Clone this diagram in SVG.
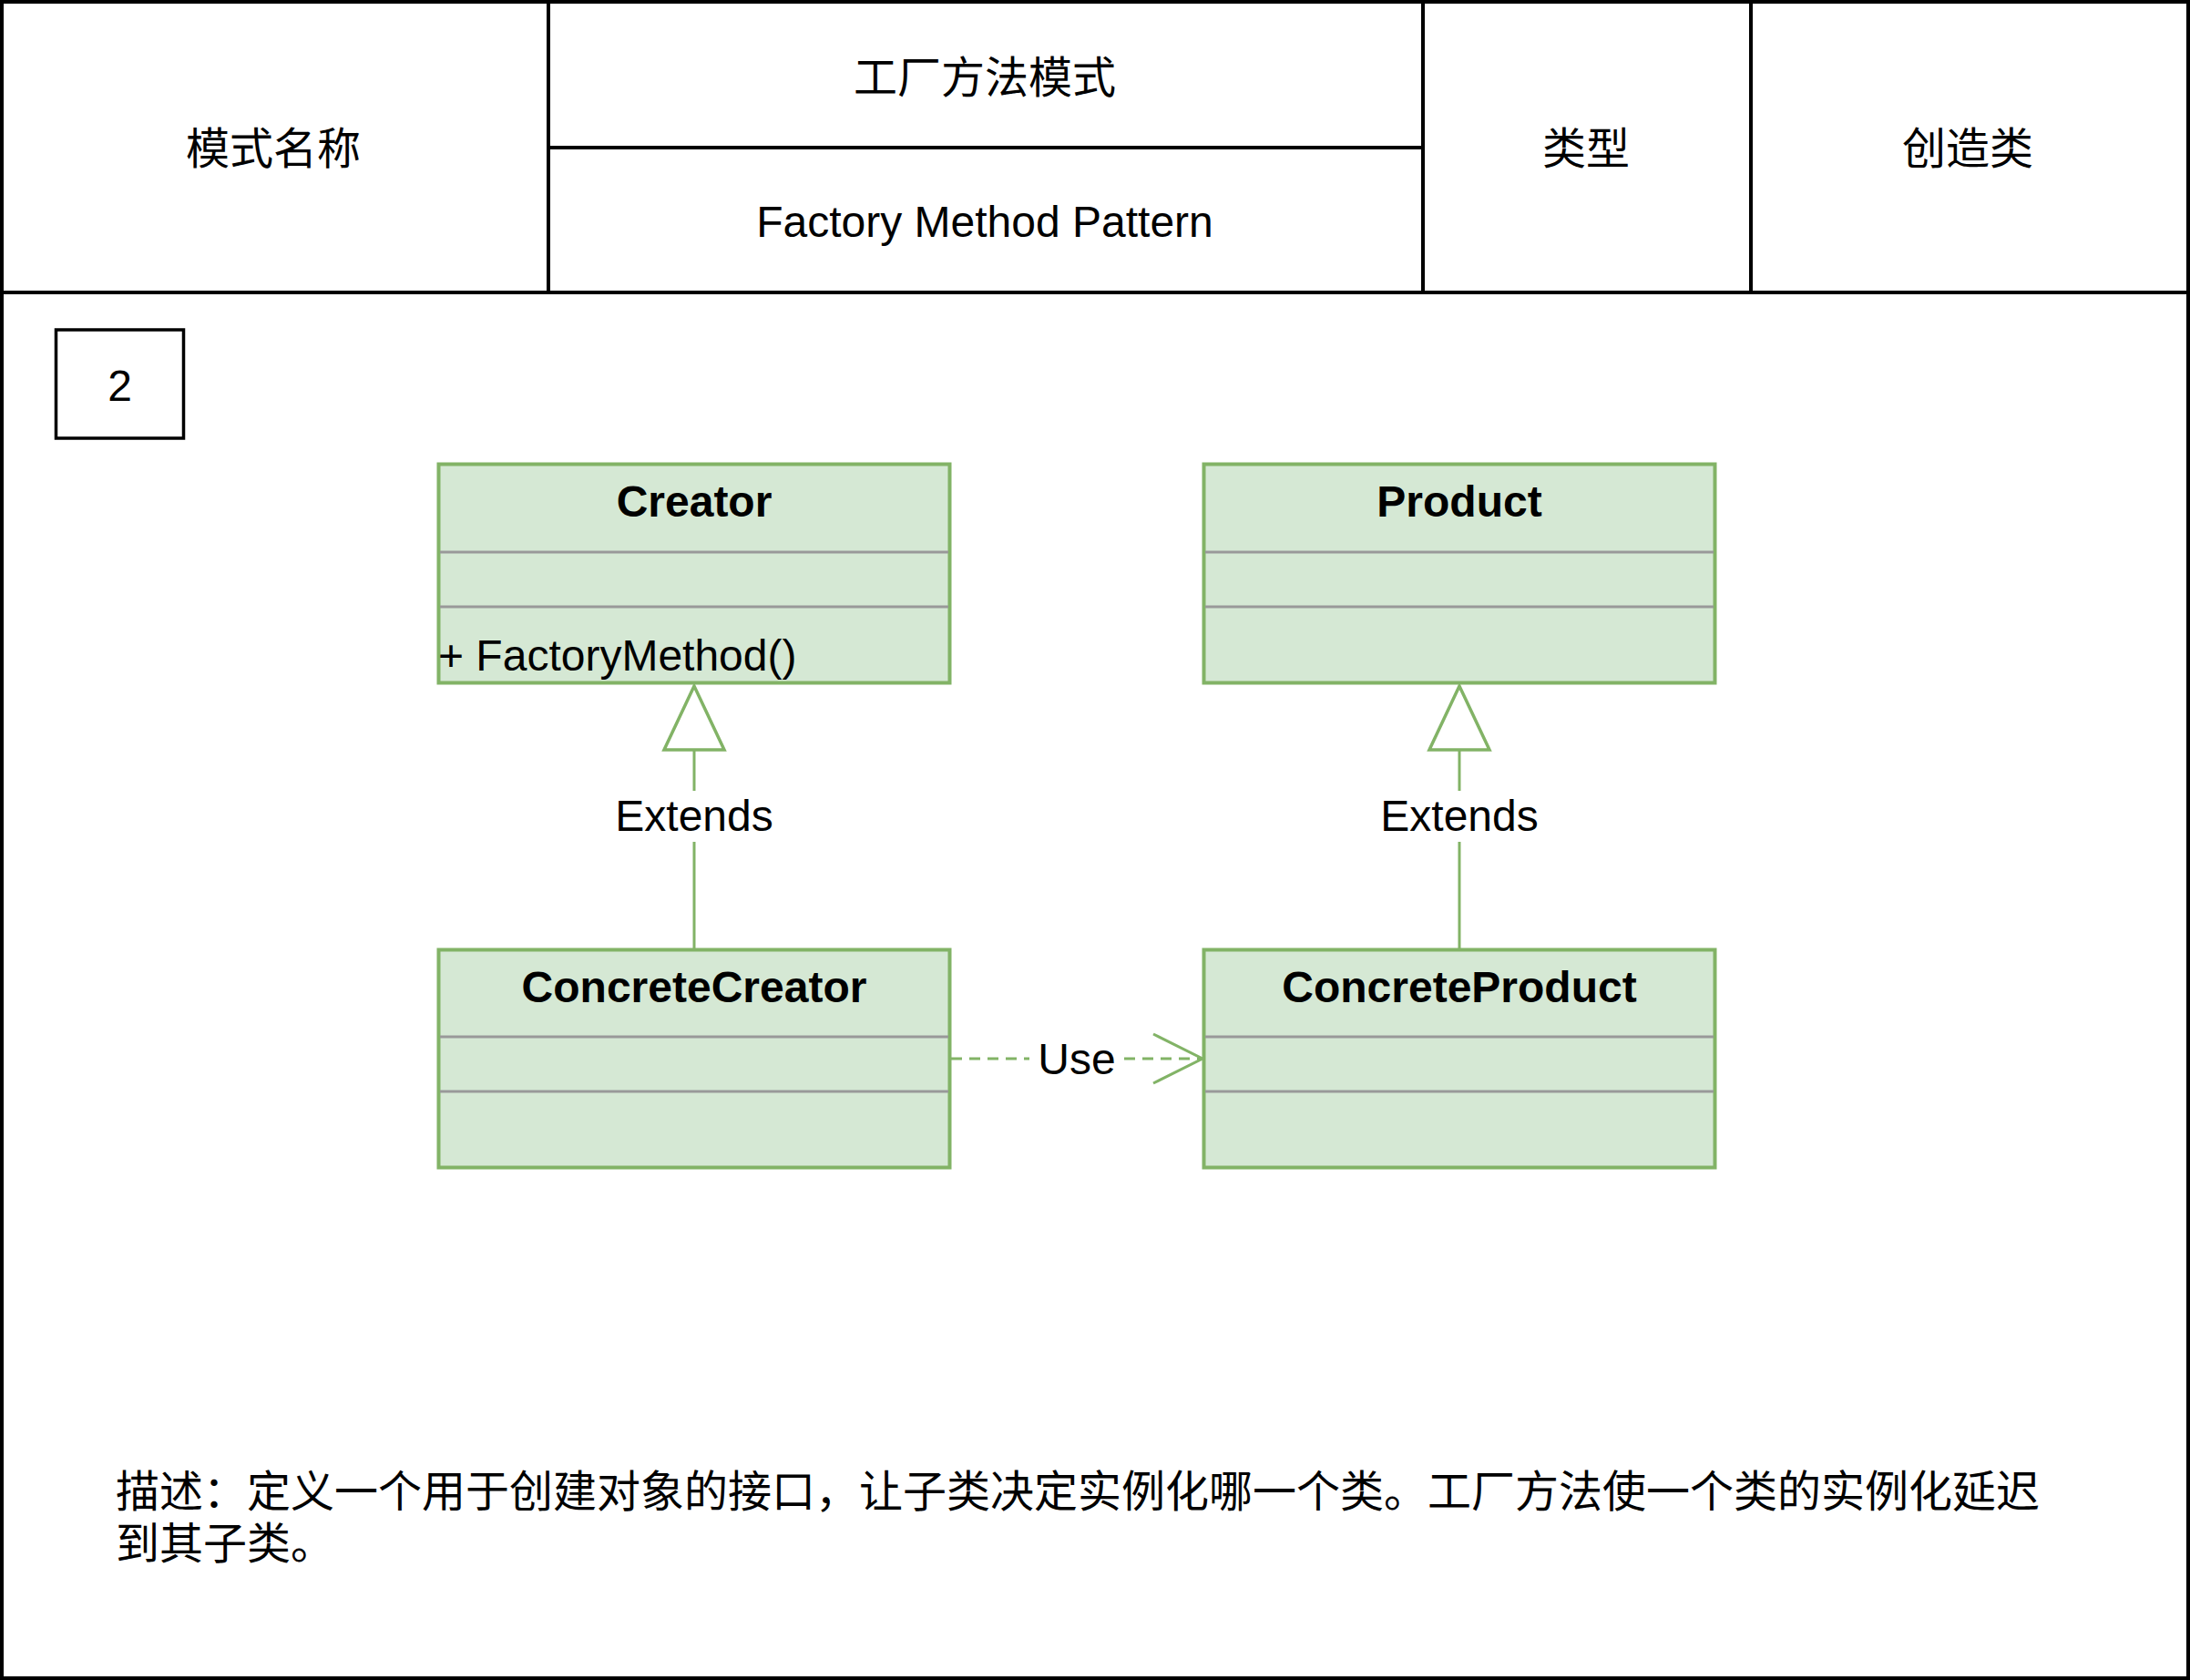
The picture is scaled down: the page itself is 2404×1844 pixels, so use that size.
<svg xmlns="http://www.w3.org/2000/svg" width="2404" height="1844" viewBox="0 0 2404 1844">
<style>
text{font-family:"Liberation Sans","Noto Sans CJK SC",sans-serif;font-size:48px;fill:#000}
.c{text-anchor:middle}
.b{font-weight:bold}
.frame{fill:none;stroke:#000;stroke-width:4}
.cls{fill:#d5e8d4;stroke:#82b366;stroke-width:4}
.sep{stroke:#999999;stroke-width:3}
.edge{fill:none;stroke:#82b366;stroke-width:3}
</style>
<rect x="0" y="0" width="2404" height="1844" fill="#fff"/>
<g id="frame">
<rect class="frame" x="2" y="2" width="2400" height="1840"/>
<line class="frame" x1="0" y1="321" x2="2404" y2="321"/>
<line class="frame" x1="602" y1="0" x2="602" y2="321"/>
<line class="frame" x1="1562" y1="0" x2="1562" y2="321"/>
<line class="frame" x1="1922" y1="0" x2="1922" y2="321"/>
<line class="frame" x1="602" y1="162" x2="1562" y2="162"/>
</g>
<g id="header-texts">
<text class="c" x="300" y="180">模式名称</text>
<text class="c" x="1081" y="102">工厂方法模式</text>
<text class="c" x="1081" y="260">Factory Method Pattern</text>
<text class="c" x="1741" y="180">类型</text>
<text class="c" x="2160" y="180">创造类</text>
</g>
<g id="num">
<rect x="61.5" y="362" width="140" height="119" fill="#fff" stroke="#000" stroke-width="3.5"/>
<text class="c" x="131.5" y="440">2</text>
</g>
<g id="creator">
<rect class="cls" x="481.5" y="509.5" width="561" height="240"/>
<line class="sep" x1="483" y1="606" x2="1041" y2="606"/>
<line class="sep" x1="483" y1="666" x2="1041" y2="666"/>
<text class="c b" x="762" y="567">Creator</text>
<text x="481" y="736">+ FactoryMethod()</text>
</g>
<g id="product">
<rect class="cls" x="1321.5" y="509.5" width="561" height="240"/>
<line class="sep" x1="1323" y1="606" x2="1881" y2="606"/>
<line class="sep" x1="1323" y1="666" x2="1881" y2="666"/>
<text class="c b" x="1602" y="567">Product</text>
</g>
<g id="concrete-creator">
<rect class="cls" x="481.5" y="1042.5" width="561" height="239"/>
<line class="sep" x1="483" y1="1138" x2="1041" y2="1138"/>
<line class="sep" x1="483" y1="1198" x2="1041" y2="1198"/>
<text class="c b" x="762" y="1100">ConcreteCreator</text>
</g>
<g id="concrete-product">
<rect class="cls" x="1321.5" y="1042.5" width="561" height="239"/>
<line class="sep" x1="1323" y1="1138" x2="1881" y2="1138"/>
<line class="sep" x1="1323" y1="1198" x2="1881" y2="1198"/>
<text class="c b" x="1602" y="1100">ConcreteProduct</text>
</g>
<g id="connectors">
<line class="edge" x1="762" y1="823" x2="762" y2="868"/>
<line class="edge" x1="762" y1="924" x2="762" y2="1041"/>
<polygon points="762,753 729,823 795,823" fill="#fff" stroke="#82b366" stroke-width="3.5"/>
<text class="c" x="762" y="912">Extends</text>
<line class="edge" x1="1602" y1="823" x2="1602" y2="868"/>
<line class="edge" x1="1602" y1="924" x2="1602" y2="1041"/>
<polygon points="1602,753 1569,823 1635,823" fill="#fff" stroke="#82b366" stroke-width="3.5"/>
<text class="c" x="1602" y="912">Extends</text>
<line class="edge" x1="1044" y1="1162" x2="1130" y2="1162" stroke-dasharray="12 8"/>
<line class="edge" x1="1234" y1="1162" x2="1318" y2="1162" stroke-dasharray="12 8"/>
<polyline class="edge" points="1266,1135 1320,1162 1266,1189"/>
<text class="c" x="1182" y="1179">Use</text>
</g>
<g id="description">
<text x="127" y="1654">描述：定义一个用于创建对象的接口，让子类决定实例化哪一个类。工厂方法使一个类的实例化延迟</text>
<text x="127" y="1711">到其子类。</text>
</g>
</svg>
